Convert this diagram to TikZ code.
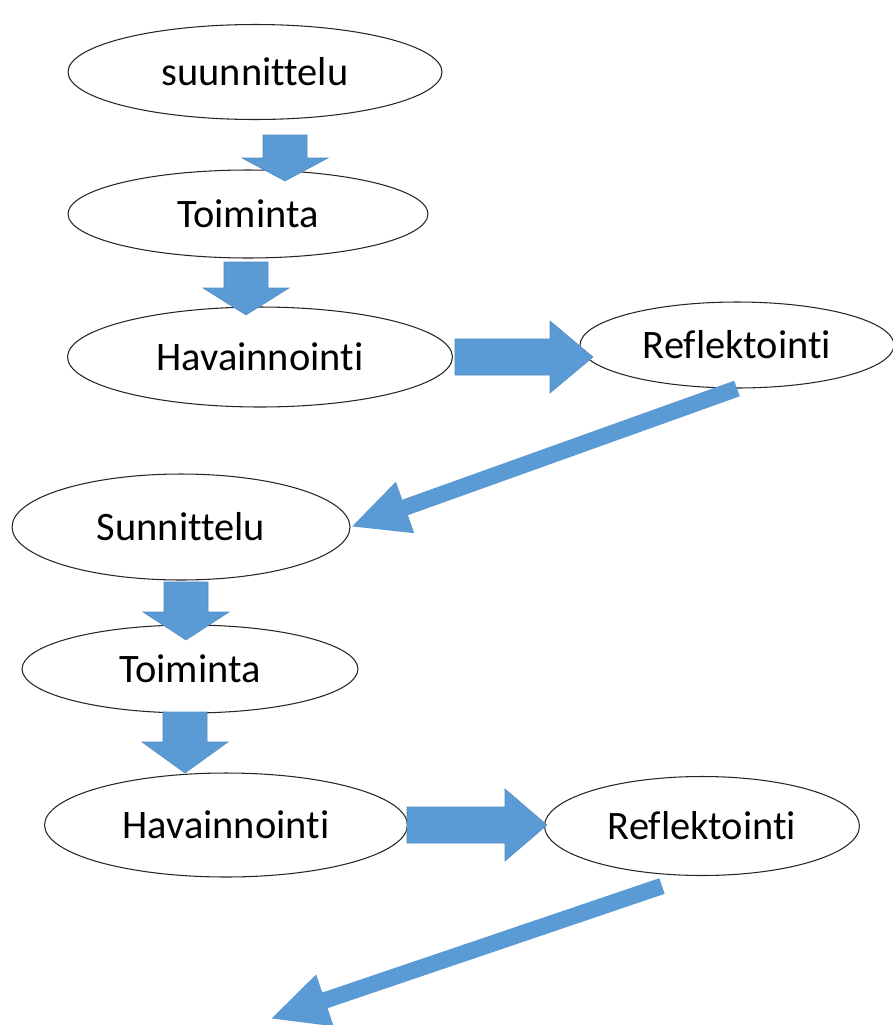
\documentclass[tikz,border=0pt]{standalone}
\usepackage{fontspec}
\setmainfont{Carlito}[Ligatures=NoCommon]
\usepackage{xcolor}
\usetikzlibrary{
    arrows.meta,
    shapes.geometric
}
\definecolor{arrowblue}{HTML}{5B9BD5}

\begin{document}
\begin{tikzpicture}[x=0.02cm, y=-0.02cm,
    font=\fontsize{23}{27}\selectfont,
    phase/.style={
        ellipse,
        draw=black!85,
        fill=white,
        line width=0.6pt,
        inner sep=0pt
    },
    blockarrow/.style={
        fill=arrowblue,
        draw=arrowblue!90!black,
        line width=0.3pt
    },
    loopback/.style={-{Triangle[length=1.16cm, width=1cm]}, line width=0.33cm, arrowblue}
]
\useasboundingbox (0,0) rectangle (893,1025);

% ===== first cycle =====
\node[phase, minimum width=7.48cm, minimum height=1.9cm] (plan1) at (255,72) {suunnittelu};
\node[phase, minimum width=7.2cm, minimum height=1.76cm] (act1) at (248,214) {Toiminta};
\node[phase, minimum width=7.7cm, minimum height=2cm] (obs1) at (260,357) {Havainnointi};
\node[phase, minimum width=6.28cm, minimum height=1.72cm] (refl1) at (737,345) {Reflektointi};

% ===== second cycle =====
\node[phase, minimum width=6.76cm, minimum height=2.12cm] (plan2) at (181,527) {Sunnittelu};
\node[phase, minimum width=6.72cm, minimum height=1.76cm] (act2) at (190,669) {Toiminta};
\node[phase, minimum width=7.26cm, minimum height=2.08cm] (obs2) at (226,825) {Havainnointi};
\node[phase, minimum width=6.3cm, minimum height=1.98cm] (refl2) at (702,826) {Reflektointi};

% block arrows, downwards: centre / shaft top / head base / tip
\foreach \xc/\yt/\yh/\yb in {285/135/158/181, 246/262/288/315, 186/582/612/640, 185/712/742/773}
    \filldraw[blockarrow] (\xc-22,\yt) -- (\xc+22,\yt) -- (\xc+22,\yh) -- (\xc+43,\yh)
        -- (\xc,\yb) -- (\xc-43,\yh) -- (\xc-22,\yh) -- cycle;

% block arrows, to the right: shaft start / head base / tip / centre
\foreach \xs/\xh/\xt/\yc in {455/550/593/357, 407/505/547/825}
    \filldraw[blockarrow] (\xs,\yc-18) -- (\xh,\yc-18) -- (\xh,\yc-36) -- (\xt,\yc)
        -- (\xh,\yc+36) -- (\xh,\yc+18) -- (\xs,\yc+18) -- cycle;

% back to planning
\coordinate (next) at (270,1019);
\draw[loopback] (refl1.south) -- (plan2.east);
\draw[loopback] ([shift={(-40,10)}]refl2.south) -- (next);

\end{tikzpicture}
\end{document}
